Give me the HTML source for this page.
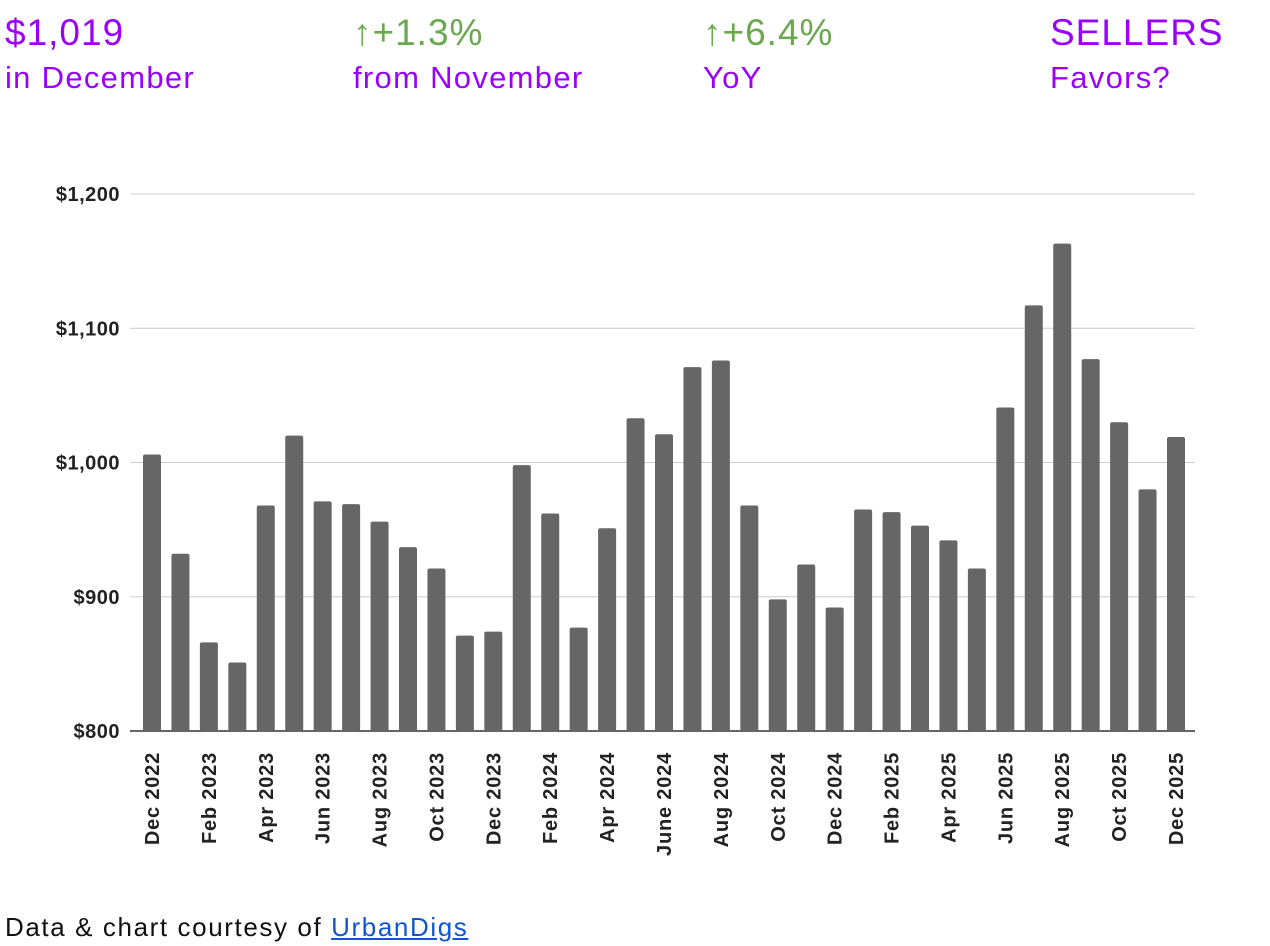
<!DOCTYPE html>
<html><head><meta charset="utf-8"><style>
body{margin:0;width:1270px;height:946px;background:#fff;font-family:"Liberation Sans",sans-serif;position:relative;overflow:hidden}
.k{position:absolute;line-height:1}
.big{font-size:37px;top:14px;letter-spacing:1px}
.sm{font-size:31px;top:62px;color:#9b00ff;letter-spacing:1.3px}
.p{color:#9b00ff}.g{color:#6aa84f}
#foot{position:absolute;left:5px;top:912px;font-size:26px;color:#111;letter-spacing:1.6px}
#foot a{color:#1155cc;text-decoration:underline}
</style></head><body>
<div class="k big p" style="left:5px">$1,019</div>
<div class="k sm" style="left:5px">in December</div>
<div class="k big g" style="left:353px">↑+1.3%</div>
<div class="k sm" style="left:353px">from November</div>
<div class="k big g" style="left:703px">↑+6.4%</div>
<div class="k sm" style="left:703px">YoY</div>
<div class="k big p" style="left:1050px">SELLERS</div>
<div class="k sm" style="left:1050px">Favors?</div>
<svg id="c" width="1270" height="946" style="position:absolute;left:0;top:0"></svg>
<div id="foot">Data &amp; chart courtesy of <a>UrbanDigs</a></div>
<script>
const months=["Dec 2022","Jan 2023","Feb 2023","Mar 2023","Apr 2023","May 2023","Jun 2023","Jul 2023","Aug 2023","Sep 2023","Oct 2023","Nov 2023","Dec 2023","Jan 2024","Feb 2024","Mar 2024","Apr 2024","May 2024","June 2024","Jul 2024","Aug 2024","Sep 2024","Oct 2024","Nov 2024","Dec 2024","Jan 2025","Feb 2025","Mar 2025","Apr 2025","May 2025","Jun 2025","Jul 2025","Aug 2025","Sep 2025","Oct 2025","Nov 2025","Dec 2025"];
const values=[1006,932,866,851,968,1020,971,969,956,937,921,871,874,998,962,877,951,1033,1021,1071,1076,968,898,924,892,965,963,953,942,921,1041,1117,1163,1077,1030,980,1019];
const yTicks=[800,900,1000,1100,1200];
const yTickLabels=["$800","$900","$1,000","$1,100","$1,200"];
const svg=document.getElementById('c');const NS='http://www.w3.org/2000/svg';
const y=v=>731-(v-800)*(537/400);
const x=i=>152+i*(1024/36);
function mk(t,a){const e=document.createElementNS(NS,t);for(const k in a)e.setAttribute(k,a[k]);svg.appendChild(e);return e;}
yTicks.forEach((t,i)=>{
 const l=mk('line',{x1:130,x2:1195,y1:y(t),y2:y(t),stroke:i==0?'#333':'#ccc','stroke-width':i==0?1.5:1});
 
 
 const tx=mk('text',{x:120,y:y(t)+7,'text-anchor':'end','font-size':20,'font-weight':'bold',fill:'#222','letter-spacing':0.5});
 tx.textContent=yTickLabels[i];
 
 
});
values.forEach((v,i)=>{
 const r=mk('rect',{x:x(i)-9,y:y(v),width:18,height:731-y(v),fill:'#666',rx:2});
 
 
 if(i%2==0){
  const t=mk('text',{transform:`translate(${x(i)+7},${752}) rotate(-90)`,'text-anchor':'end','font-size':20,'font-weight':'bold',fill:'#222','letter-spacing':0.8});
  t.textContent=months[i];
  
  
 }
});
</script>
</body></html>
